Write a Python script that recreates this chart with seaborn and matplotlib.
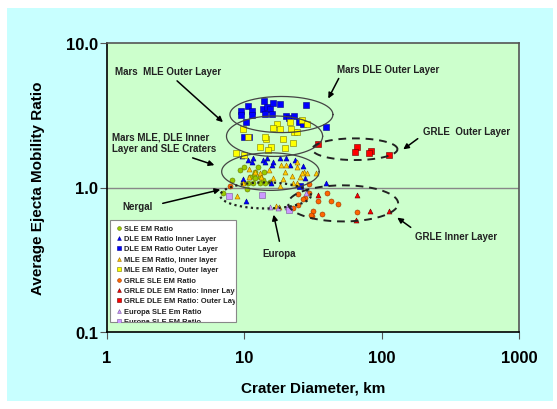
import numpy as np
import pandas as pd
import matplotlib
matplotlib.use("Agg")
import matplotlib.pyplot as plt
import seaborn as sns
from matplotlib.patches import Rectangle
from matplotlib.transforms import Bbox, TransformedBbox

# crater diameter (km) and ejecta mobility ratio
sle_d = [9.3, 9.9, 11.9, 11.7, 11.0, 13.0, 8.1, 9.75, 10.6, 11.5, 13.0, 14.1, 15.3, 7.0, 10.4, 11.9, 13.6, 13.8, 12.5]
sle_r = [1.33, 1.38, 1.29, 1.23, 1.19, 1.19, 1.12, 1.08, 1.08, 1.08, 1.08, 1.08, 1.10, 0.92, 0.97, 1.17, 1.12, 1.29, 1.38]

dle_in_d = [9.6, 10.6, 11.3, 11.5, 13.6, 14.1, 14.6, 15.8, 16.1, 18.1, 20.0, 21.4, 23.3, 26.6, 27.5, 9.75, 15.6, 10.3, 39.1]
dle_in_r = [1.66, 1.56, 1.49, 1.61, 1.56, 1.51, 1.59, 1.44, 1.49, 1.61, 1.59, 1.44, 1.54, 1.40, 1.17, 1.15, 1.07, 0.81, 1.08]

dle_out_d = [10.6, 13.9, 16.1, 18.1, 28.0, 9.4, 11.3, 13.6, 14.6, 15.3, 9.4, 11.3, 14.1, 15.8, 10.3, 20.0, 21.1, 22.9, 24.9, 26.6, 9.9, 10.8, 39.1, 25.3]
dle_out_r = [3.69, 3.94, 3.87, 3.81, 3.75, 3.41, 3.41, 3.52, 3.58, 3.47, 3.20, 3.20, 3.25, 3.25, 2.86, 3.10, 3.05, 3.10, 2.82, 2.77, 2.25, 2.25, 2.64, 1.02]

mle_in_d = [10.8, 11.9, 13.0, 15.1, 18.4, 20.0, 19.7, 22.1, 24.1, 25.3, 27.0, 28.5, 19.1, 22.5, 24.1, 9.75, 18.1, 8.8, 10.8, 13.2, 16.1, 17.8, 17.0, 24.0, 26.2, 33.0]
mle_in_r = [1.35, 1.29, 1.27, 1.33, 1.42, 1.44, 1.29, 1.21, 1.38, 1.19, 1.29, 1.27, 1.14, 1.08, 1.07, 1.08, 1.03, 0.87, 1.19, 1.19, 1.17, 0.73, 0.74, 1.49, 1.25, 1.27]

mle_out_d = [9.75, 10.6, 17.2, 16.1, 18.1, 21.4, 22.9, 24.1, 26.2, 28.5, 19.1, 22.5, 14.3, 15.6, 13.0, 14.8, 8.7, 9.9, 19.7, 21.8, 14.1]
mle_out_r = [2.56, 2.22, 2.77, 2.60, 2.52, 2.82, 2.44, 2.44, 2.91, 2.73, 2.18, 2.02, 2.15, 1.92, 1.92, 1.83, 1.72, 1.69, 1.89, 2.52, 2.22]

grle_sle_d = [7.8, 29.5, 39.8, 34.2, 42.5, 48.4, 65.8, 31.5, 36.7, 31.0, 24.5, 27.5, 29.5, 24.5, 22.5, 26.6, 30.4]
grle_sle_r = [1.02, 1.05, 0.92, 0.81, 0.81, 0.77, 0.68, 0.69, 0.66, 0.64, 0.90, 0.85, 0.91, 0.76, 0.72, 0.83, 0.65]

grle_in_d = [34.2, 65.8, 64.7, 81.9, 114.0]
grle_in_r = [0.89, 0.89, 0.60, 0.69, 0.69]

grle_out_d = [34.2, 65.8, 63.7, 83.1, 80.4, 114.0]
grle_out_r = [1.99, 1.92, 1.77, 1.80, 1.72, 1.69]

eur_tri_d = [15.3, 17.5, 20.4, 28.0]
eur_tri_r = [0.73, 0.72, 0.73, 0.92]

eur_sq_d = [7.7, 13.4, 21.0]
eur_sq_r = [0.87, 0.89, 0.70]

series = [
    ("SLE EM Ratio", sle_d, sle_r, "o", "#99CC00", "#667700"),
    ("DLE EM Ratio Inner Layer", dle_in_d, dle_in_r, "^", "#0000FF", "#000088"),
    ("DLE EM Ratio Outer Layer", dle_out_d, dle_out_r, "s", "#0000FF", "#000088"),
    ("MLE EM Ratio, Inner layer", mle_in_d, mle_in_r, "^", "#FFCC00", "#996600"),
    ("MLE EM Ratio, Outer layer", mle_out_d, mle_out_r, "s", "#FFFF00", "#777700"),
    ("GRLE SLE EM Ratio", grle_sle_d, grle_sle_r, "o", "#FF6600", "#993300"),
    ("GRLE DLE EM Ratio: Inner Layer", grle_in_d, grle_in_r, "^", "#FF0000", "#660000"),
    ("GRLE DLE EM Ratio: Outer Layer", grle_out_d, grle_out_r, "s", "#FF0000", "#660000"),
    ("Europa SLE Em Ratio", eur_tri_d, eur_tri_r, "^", "#CC99FF", "#775599"),
    ("Europa SLE EM Ratio", eur_sq_d, eur_sq_r, "s", "#CC99FF", "#775599"),
]

plt.rcParams["font.family"] = ["Liberation Sans", "DejaVu Sans"]
plt.rcParams["font.weight"] = "bold"

fig = plt.figure(figsize=(5.57, 4.10), dpi=100, facecolor="white")
fig.patches.append(Rectangle((7 / 557, 8 / 410), 546 / 557, 393 / 410,
                             transform=fig.transFigure, facecolor="#C8FFFF",
                             edgecolor="none", zorder=-10))
ax = fig.add_axes([107 / 557, 77 / 410, 412 / 557, 289 / 410])
ax.set_facecolor("#CCFFCC")

for name, d, r, mk, fc, ec in series:
    df = pd.DataFrame({"d": d, "r": r})
    sns.scatterplot(data=df, x="d", y="r", marker=mk, color=fc, edgecolor=ec,
                    linewidth=0.4, s=13, ax=ax, label=name, zorder=3)

ax.set_xscale("log")
ax.set_yscale("log")
ax.set_xlim(1, 1000)
ax.set_ylim(0.1, 10)
ax.set_xticks([1, 10, 100, 1000])
ax.set_xticklabels(["1", "10", "100", "1000"])
ax.set_yticks([0.1, 1, 10])
ax.set_yticklabels(["0.1", "1.0", "10.0"])
ax.minorticks_off()
ax.tick_params(labelsize=12, length=5, width=0.8, color="#555555")
ax.tick_params(axis="x", pad=8)
ax.tick_params(axis="y", pad=1.5)
ax.axhline(1, color="#888888", lw=1, zorder=1)
for sp in ["top", "right"]:
    ax.spines[sp].set_color("#555555")
    ax.spines[sp].set_linewidth(1.2)
for sp in ["left", "bottom"]:
    ax.spines[sp].set_color("black")
    ax.spines[sp].set_linewidth(1.2)

ax.set_xlabel("Crater Diameter, km", fontsize=11, fontweight="bold", labelpad=11)
ax.set_ylabel("Average Ejecta Mobility Ratio", fontsize=11, fontweight="bold", labelpad=15)

# grouping ellipses drawn in log space: (log centre x, log centre y, half widths)
def ellipse(cx, cy, ax_w, ax_h, **kw):
    t = np.linspace(0, 2 * np.pi, 200)
    ax.plot(10 ** (cx + ax_w * np.cos(t)), 10 ** (cy + ax_h * np.sin(t)), zorder=4, **kw)

ellipse(1.27, 0.505, 0.375, 0.125, color="#444444", lw=0.9)
ellipse(1.22, 0.355, 0.35, 0.14, color="#444444", lw=0.9)
ellipse(1.19, 0.11, 0.355, 0.13, color="#444444", lw=0.9)
ellipse(1.155, -0.055, 0.33, 0.09, color="#222222", lw=1.6, ls=(0, (1, 1.5)))
ellipse(1.805, 0.265, 0.31, 0.075, color="#222222", lw=1.4, ls=(0, (4, 3)))
ellipse(1.72, -0.11, 0.40, 0.125, color="#222222", lw=1.4, ls=(0, (4, 3)))

def fx(px):
    return (px - 107) / 412

def fy(py):
    return (333 - py) / 289

def note(text, xy_txt, tail, head):
    ax.text(xy_txt[0], xy_txt[1], text, transform=ax.transAxes, fontsize=7,
            fontweight="bold", ha="left", va="center", color="#222222")
    ax.annotate("", xy=head, xytext=tail, xycoords="axes fraction",
                textcoords="axes fraction",
                arrowprops=dict(arrowstyle="-|>", color="black", lw=1.1,
                                mutation_scale=8))

note("Mars  MLE Outer Layer", (fx(115), fy(72)), (fx(175), fy(80)), (fx(225), fy(125)))
note("Mars MLE, DLE Inner\nLayer and SLE Craters", (fx(112), fy(143)), (fx(190), fy(158)), (fx(217), fy(167)))
note("Mars DLE Outer Layer", (fx(337), fy(70)), (fx(340), fy(77)), (fx(327), fy(102)))
note("GRLE  Outer Layer", (fx(423), fy(132)), (fx(420), fy(138)), (fx(401), fy(152)))
note("GRLE Inner Layer", (fx(415), fy(237)), (fx(413), fy(230)), (fx(395), fy(217)))
note("Nergal", (fx(122), fy(207)), (fx(160), fy(205)), (fx(223), fy(190)))
note("Europa", (fx(262), fy(254)), (fx(280), fy(245)), (fx(273), fy(213)))

# legend box, clipped like the original
box = Rectangle((fx(110), fy(323)), fx(236) - fx(110), fy(221) - fy(323),
                transform=ax.transAxes, facecolor="white", edgecolor="#888888",
                lw=0.8, zorder=5)
ax.add_patch(box)
leg = ax.legend(loc="upper left", bbox_to_anchor=(fx(111), fy(219)), frameon=False,
                handlelength=0.5, handletextpad=0.45, borderpad=0.35, labelspacing=0.42,
                markerscale=0.75, prop={"size": 5.4, "weight": "bold"})
leg.set_zorder(6)
clip = TransformedBbox(Bbox([[fx(110), fy(323)], [fx(235), fy(222)]]), ax.transAxes)
for t in leg.get_texts():
    t.set_color("#222222")
    t.set_clip_on(True)
    t.set_clip_box(clip)
for h in leg.legend_handles:
    h.set_clip_on(True)
    h.set_clip_box(clip)

plt.savefig("out.png", dpi=100, facecolor=fig.get_facecolor())
